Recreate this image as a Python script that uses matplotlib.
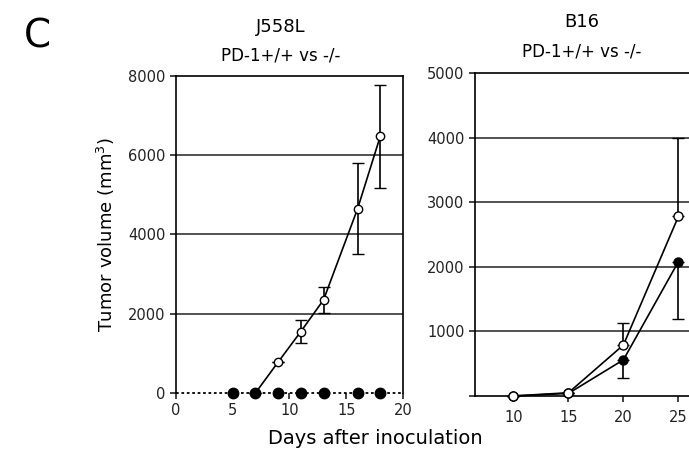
import matplotlib.pyplot as plt

plt.rcParams['font.family'] = ['DejaVu Sans']

# J558L
j_days_wt = [7, 9, 11, 13, 16, 18]
j_vol_wt = [0, 780, 1550, 2350, 4650, 6480]
j_err_wt = [0, 0, 280, 320, 1150, 1300]
j_days_ko = [5, 7, 9, 11, 13, 16, 18]
j_vol_ko = [0, 0, 0, 0, 0, 0, 0]

# B16
b_days = [10, 15, 20, 25]
b_vol_wt = [0, 50, 790, 2780]
b_err_wt_up = [0, 0, 340, 1220]
b_vol_ko = [0, 40, 560, 2080]
b_err_ko_dn = [0, 0, 280, 890]

fig = plt.figure(figsize=(6.89, 4.54), dpi=100)

ax1 = fig.add_axes([0.2554, 0.1344, 0.3295, 0.6982])
ax2 = fig.add_axes([0.6894, 0.1278, 0.375, 0.7112])

lw = 1.2
for ax in (ax1, ax2):
    for s in ax.spines.values():
        s.set_linewidth(lw)
    ax.tick_params(direction='out', length=4, width=lw, labelsize=10.5, colors='#222222')

# left panel
ax1.plot(j_days_ko, j_vol_ko, 'o', color='black', markersize=7.5, zorder=4, clip_on=False)
ax1.errorbar(j_days_wt, j_vol_wt, yerr=j_err_wt, fmt='o-', color='black', mfc='white',
             mec='black', markersize=6, lw=1.2, capsize=4, elinewidth=1.2, zorder=3, clip_on=False)
ax1.plot([0, 20], [0, 0], linestyle=(0, (1.5, 1.5)), color='black', lw=1.3, zorder=2, clip_on=False)
ax1.set_xlim(0, 20)
ax1.set_ylim(0, 8000)
ax1.set_xticks([0, 5, 10, 15, 20])
ax1.set_yticks([0, 2000, 4000, 6000, 8000])
for y in [2000, 4000, 6000]:
    ax1.axhline(y, color='#333333', lw=1.2, zorder=1)
ax1.spines['bottom'].set_visible(False)
ax1.set_ylabel('Tumor volume (mm$^3$)', fontsize=13, labelpad=8)

# right panel
ax2.errorbar(b_days, b_vol_wt, yerr=[[0] * 4, b_err_wt_up], fmt='o-', color='black',
             mfc='white', mec='black', markersize=6.5, lw=1.2, capsize=4, elinewidth=1.2,
             zorder=4, clip_on=False)
ax2.errorbar(b_days, b_vol_ko, yerr=[b_err_ko_dn, [0] * 4], fmt='o-', color='black',
             markersize=6.5, lw=1.2, capsize=4, elinewidth=1.2, zorder=3, clip_on=False)
ax2.set_xlim(6.5, 30)
ax2.set_ylim(0, 5000)
ax2.set_xticks([10, 15, 20, 25])
ax2.set_yticks([0, 1000, 2000, 3000, 4000, 5000])
ax2.set_yticklabels(['', '1000', '2000', '3000', '4000', '5000'])
for y in [1000, 2000, 3000, 4000]:
    ax2.axhline(y, color='#333333', lw=1.2, zorder=1)
ax2.spines['right'].set_visible(False)
ax2.tick_params(axis='x', pad=6)

# titles
fig.text(281 / 689, 1 - 27 / 454, 'J558L', ha='center', va='center', fontsize=13)
fig.text(281 / 689, 1 - 55 / 454, 'PD-1+/+ vs -/-', ha='center', va='center', fontsize=12)
fig.text(582 / 689, 1 - 22 / 454, 'B16', ha='center', va='center', fontsize=13)
fig.text(582 / 689, 1 - 52 / 454, 'PD-1+/+ vs -/-', ha='center', va='center', fontsize=12)

fig.text(375 / 689, 1 - 438 / 454, 'Days after inoculation', ha='center', va='center', fontsize=14)
fig.text(37 / 689, 1 - 36 / 454, 'C', ha='center', va='center', fontsize=28)

fig.savefig('out.png', dpi=100)
